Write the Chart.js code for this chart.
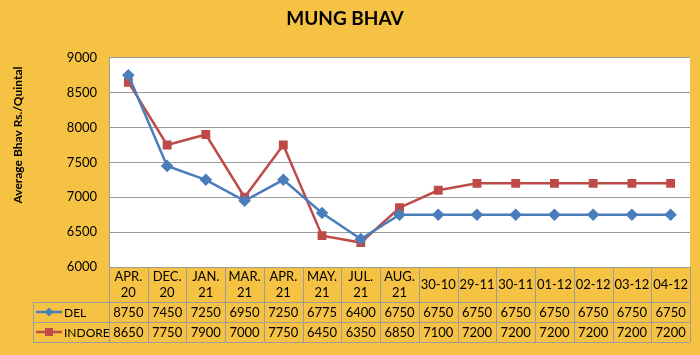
<!DOCTYPE html>
<html>
<head>
<meta charset="utf-8">
<script src="https://cdn.jsdelivr.net/npm/chart.js@4"></script>
<style>
    body { margin: 0; background: #F6C244; }
    #wrap { width: 700px; height: 355px; }
</style>
</head>
<body>
<div id="wrap"><canvas id="bhavChart" width="700" height="355"></canvas></div>
<script>
const labels = [
    ["APR.", "20"], ["DEC.", "20"], ["JAN.", "21"], ["MAR.", "21"], ["APR.", "21"],
    ["MAY.", "21"], ["JUL.", "21"], ["AUG.", "21"], "30-10", "29-11", "30-11",
    "01-12", "02-12", "03-12", "04-12"
];
const del = [8750, 7450, 7250, 6950, 7250, 6775, 6400, 6750, 6750, 6750, 6750, 6750, 6750, 6750, 6750];
const indore = [8650, 7750, 7900, 7000, 7750, 6450, 6350, 6850, 7100, 7200, 7200, 7200, 7200, 7200, 7200];
const yTicks = [6000, 6500, 7000, 7500, 8000, 8500, 9000];

const DEL_COLOR = "#4A7EBB";
const INDORE_COLOR = "#BE4B48";
const GRID = "#9C9C9C";
const FONT = "Lato, sans-serif";

// data table under the plot, columns follow the x scale
const dataTable = {
    id: "dataTable",
    afterDraw(chart) {
        const ctx = chart.ctx;
        const x = chart.scales.x;
        const area = chart.chartArea;
        const n = labels.length;
        const colW = (area.right - area.left) / n;
        const top = area.bottom;
        const catH = 35, rowH = 20;
        const legendLeft = 33;
        const rows = [
            { name: "DEL", values: del, color: DEL_COLOR, style: "diamond" },
            { name: "INDORE", values: indore, color: INDORE_COLOR, style: "square" }
        ];

        ctx.save();
        ctx.strokeStyle = GRID;
        ctx.lineWidth = 1;
        ctx.beginPath();
        // horizontal lines
        ctx.moveTo(area.left, top + 0.5); ctx.lineTo(area.right, top + 0.5);
        for (let r = 0; r <= rows.length; r++) {
            const y = Math.round(top + catH + r * rowH) + 0.5;
            ctx.moveTo(legendLeft, y); ctx.lineTo(area.right, y);
        }
        // vertical lines
        for (let i = 0; i <= n; i++) {
            const xx = Math.round(area.left + i * colW) + 0.5;
            ctx.moveTo(xx, top); ctx.lineTo(xx, top + catH + rows.length * rowH);
        }
        ctx.moveTo(legendLeft + 0.5, top + catH); ctx.lineTo(legendLeft + 0.5, top + catH + rows.length * rowH);
        ctx.stroke();

        ctx.fillStyle = "#000";
        ctx.textAlign = "center";
        ctx.textBaseline = "middle";
        ctx.font = "13px " + FONT;
        labels.forEach((lab, i) => {
            const cx = x.getPixelForValue(i);
            if (Array.isArray(lab)) {
                ctx.fillText(lab[0], cx, top + 10);
                ctx.fillText(lab[1], cx, top + 26);
            } else {
                ctx.fillText(lab, cx, top + catH / 2);
            }
        });

        rows.forEach((row, r) => {
            const cy = top + catH + r * rowH + rowH / 2;
            ctx.font = "13px " + FONT;
            row.values.forEach((v, i) => {
                ctx.fillStyle = "#000";
                ctx.fillText(String(v), x.getPixelForValue(i), cy + 1);
            });
            // legend key
            ctx.strokeStyle = row.color;
            ctx.lineWidth = 2.5;
            ctx.beginPath();
            ctx.moveTo(36, cy); ctx.lineTo(62, cy);
            ctx.stroke();
            ctx.fillStyle = row.color;
            ctx.beginPath();
            if (row.style === "diamond") {
                ctx.moveTo(49, cy - 4.5); ctx.lineTo(53.5, cy); ctx.lineTo(49, cy + 4.5); ctx.lineTo(44.5, cy);
            } else {
                ctx.rect(45, cy - 4, 8, 8);
            }
            ctx.fill();
            ctx.fillStyle = "#000";
            ctx.textAlign = "left";
            ctx.font = "12px " + FONT;
            ctx.fillText(row.name, 64, cy + 1);
            ctx.textAlign = "center";
        });

        // y axis title
        ctx.translate(18, 135);
        ctx.rotate(-Math.PI / 2);
        ctx.font = "bold 12px " + FONT;
        ctx.fillStyle = "#000";
        ctx.fillText("Average Bhav Rs./Quintal", 0, 0);
        ctx.restore();
    }
};

const ctx = document.getElementById("bhavChart").getContext("2d");
new Chart(ctx, {
    type: "line",
    data: {
        labels: labels,
        datasets: [
            {
                label: "DEL",
                data: del,
                borderColor: DEL_COLOR,
                backgroundColor: DEL_COLOR,
                borderWidth: 2.5,
                pointStyle: "rectRot",
                pointRadius: 4.5,
                tension: 0
            },
            {
                label: "INDORE",
                data: indore,
                borderColor: INDORE_COLOR,
                backgroundColor: INDORE_COLOR,
                borderWidth: 2.5,
                pointStyle: "rect",
                pointRadius: 4.5,
                tension: 0
            }
        ]
    },
    options: {
        responsive: false,
        animation: false,
        layout: { padding: { left: 0, right: 10, bottom: 88, top: 0 } },
        plugins: {
            legend: { display: false },
            tooltip: { enabled: false },
            title: {
                display: true,
                text: "MUNG BHAV",
                color: "#000",
                font: { family: FONT, size: 19, weight: "bold" },
                padding: { top: 7, bottom: 28 }
            }
        },
        scales: {
            x: {
                display: false,
                offset: true
            },
            y: {
                min: 6000,
                max: 9000,
                afterBuildTicks(scale) {
                    scale.ticks = yTicks.map(v => ({ value: v }));
                },
                afterFit(scale) { scale.width = 109; },
                grid: { color: GRID, drawTicks: false },
                border: { color: GRID },
                ticks: {
                    color: "#000",
                    padding: 12,
                    font: { family: FONT, size: 13 },
                    callback: v => String(v)
                }
            }
        }
    },
    plugins: [
        {
            id: "plotBg",
            beforeDraw(chart) {
                const a = chart.chartArea;
                chart.ctx.save();
                chart.ctx.fillStyle = "#fff";
                chart.ctx.fillRect(a.left, a.top, a.right - a.left, a.bottom - a.top);
                chart.ctx.restore();
            }
        },
        dataTable
    ]
});
</script>
</body>
</html>
